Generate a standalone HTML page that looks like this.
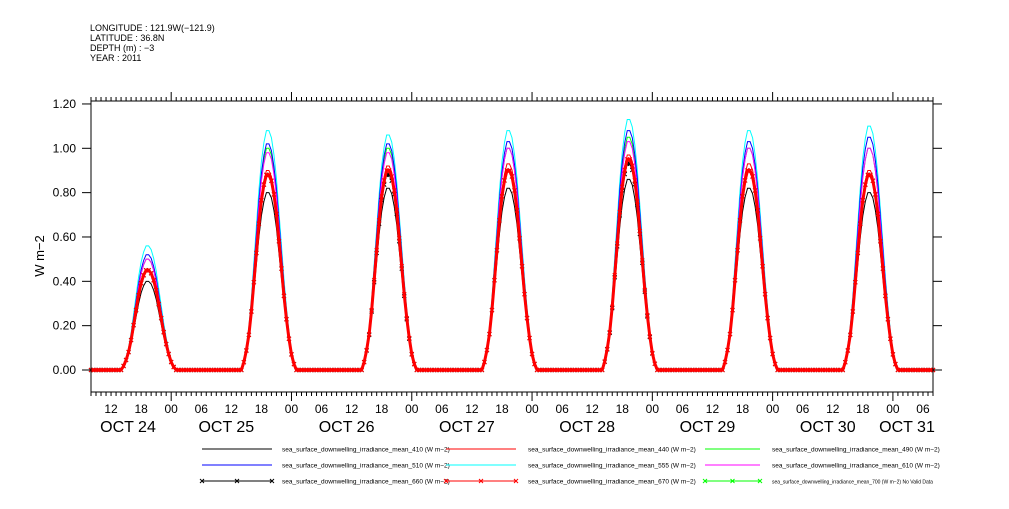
<!DOCTYPE html>
<html><head><meta charset="utf-8"><style>
body{margin:0;background:#fff;}
svg text{font-family:"Liberation Sans",sans-serif;}
</style></head><body>
<svg id="chart" width="1009" height="504" xmlns="http://www.w3.org/2000/svg">
<g font-size="9" fill="#000">
<text x="90" y="31">LONGITUDE : 121.9W(−121.9)</text>
<text x="90" y="41">LATITUDE : 36.8N</text>
<text x="90" y="51">DEPTH (m) : −3</text>
<text x="90" y="61">YEAR : 2011</text>
</g>
<text x="44" y="256" font-size="13" transform="rotate(-90 44 256)" text-anchor="middle">W m−2</text>
<g id="plot"></g>
<g id="legend"></g>
</svg>
<script>
// Data arrays
const dayLabels=["OCT 24","OCT 25","OCT 26","OCT 27","OCT 28","OCT 29","OCT 30","OCT 31"];
const yTicks=[0,0.2,0.4,0.6,0.8,1.0,1.2];
const hourLabels=["00","06","12","18"];
// diurnal profile (fraction of daily peak), half-hourly from 14:00 to 25:00 UTC
const profile=[0,0.04,0.1,0.18,0.3,0.45,0.6,0.75,0.87,0.95,1.0,1.0,0.97,0.9,0.8,0.66,0.52,0.38,0.26,0.16,0.08,0.03,0];
const peak410=[0.40,0.80,0.82,0.82,0.86,0.82,0.80];
const peak440=[0.45,0.90,0.92,0.93,0.97,0.93,0.90];
const peak490=[0.50,1.00,1.00,1.00,1.05,1.00,1.00];
const peak510=[0.52,1.02,1.02,1.03,1.08,1.03,1.05];
const peak555=[0.56,1.08,1.06,1.08,1.13,1.08,1.10];
const peak610=[0.50,0.98,0.98,1.00,1.03,1.00,1.00];
const peak660=[0.45,0.88,0.88,0.90,0.93,0.90,0.88];
const peak670=[0.45,0.88,0.90,0.90,0.95,0.90,0.88];

const NS="http://www.w3.org/2000/svg";
const X0=91,X1=933,Y0=101,Y1=392;
const tStart=8, tEnd=7*24+8; // hours since Oct24 00
function xs(h){return X0+(h-tStart)/(tEnd-tStart)*(X1-X0);}
function ys(v){return 370-v*221.7;}
const plot=document.getElementById('plot');
function mk(tag,attrs,parent){const e=document.createElementNS(NS,tag);for(const k in attrs)e.setAttribute(k,attrs[k]);(parent||plot).appendChild(e);return e;}

function seriesPts(peaks){
  const pts=[];
  for(let h=tStart;h<=tEnd;h+=0.5){
    const day=Math.floor((h-2)/24); // window 14..25 belongs to day
    const rel=h-day*24;
    let v=0;
    if(day>=0&&day<peaks.length&&rel>=14&&rel<=25){v=peaks[day]*profile[Math.round((rel-14)*2)];}
    pts.push([xs(h),ys(v)]);
  }
  return pts;
}
const series=[
 {name:'series-410',peaks:peak410,color:'#000',marker:false},
 {name:'series-490',peaks:peak490,color:'#00ff00',marker:false},
 {name:'series-555',peaks:peak555,color:'#00ffff',marker:false},
 {name:'series-510',peaks:peak510,color:'#0000ff',marker:false},
 {name:'series-610',peaks:peak610,color:'#ff00ff',marker:false},
 {name:'series-660',peaks:peak660,color:'#000',marker:true},
 {name:'series-440',peaks:peak440,color:'#ff0000',marker:false},
 {name:'series-670',peaks:peak670,color:'#ff0000',marker:true}
];
series.forEach(s=>{
  const pts=seriesPts(s.peaks);
  const p=mk('polyline',{points:pts.map(p=>p.join(',')).join(' '),fill:'none',stroke:s.color,'stroke-width':s.name==='series-670'?3:1});
  
  
  if(s.marker){
    const g=mk('g',{stroke:s.color,'stroke-width':1});
    
    
    pts.forEach(([x,y])=>{mk('path',{d:`M${x-2},${y-2}L${x+2},${y+2}M${x-2},${y+2}L${x+2},${y-2}`},g);});
  }
});

// axes frame
const frame=mk('rect',{x:X0,y:Y0,width:X1-X0,height:Y1-Y0,fill:'none',stroke:'#000','stroke-width':1});


// y ticks
yTicks.forEach(v=>{
  const y=ys(v);
  mk('line',{x1:X0-9,x2:X0,y1:y,y2:y,stroke:'#000'});
  mk('line',{x1:X1,x2:X1+9,y1:y,y2:y,stroke:'#000'});
  const t=mk('text',{x:X0-15,y:y+4,'font-size':12,'text-anchor':'end'});
  t.textContent=v.toFixed(2);
  
  
});
// x ticks
for(let h=tStart;h<=tEnd;h++){
  const x=xs(h);
  const major=h%24===0, six=h%6===0;
  const len=major?9:4;
  mk('line',{x1:x,x2:x,y1:Y1,y2:Y1+len,stroke:'#000'});
  mk('line',{x1:x,x2:x,y1:Y0,y2:Y0-len,stroke:'#000'});
  if(six&&h>tStart&&h<tEnd){
    const t=mk('text',{x:x,y:413,'font-size':12,'text-anchor':'middle'});
    t.textContent=hourLabels[(h%24)/6];
    
    
  }
}
dayLabels.forEach((d,i)=>{
  let x=xs(i*24+11);
  if(i===0)x=128; if(i===7)x=907;
  const t=mk('text',{x:x,y:432,'font-size':16,'text-anchor':'middle'});
  t.textContent=d;
  
  
});

// legend
const leg=document.getElementById('legend');
const legItems=[
 ['sea_surface_downwelling_irradiance_mean_410 (W m−2)','#000',false],
 ['sea_surface_downwelling_irradiance_mean_440 (W m−2)','#ff0000',false],
 ['sea_surface_downwelling_irradiance_mean_490 (W m−2)','#00ff00',false],
 ['sea_surface_downwelling_irradiance_mean_510 (W m−2)','#0000ff',false],
 ['sea_surface_downwelling_irradiance_mean_555 (W m−2)','#00ffff',false],
 ['sea_surface_downwelling_irradiance_mean_610 (W m−2)','#ff00ff',false],
 ['sea_surface_downwelling_irradiance_mean_660 (W m−2)','#000',true],
 ['sea_surface_downwelling_irradiance_mean_670 (W m−2)','#ff0000',true],
 ['sea_surface_downwelling_irradiance_mean_700 (W m−2) No Valid Data','#00ff00',true]
];
const colX=[[202,272,282],[446,516,528],[705,760,772]];
legItems.forEach((it,i)=>{
  const c=colX[i%3], y=449+Math.floor(i/3)*16;
  const g=mk('g',{},leg);
  
  
  mk('line',{x1:c[0],x2:c[1],y1:y,y2:y,stroke:it[1]},g);
  if(it[2]){[c[0],(c[0]+c[1])/2,c[1]].forEach(x=>mk('path',{d:`M${x-2},${y-2}L${x+2},${y+2}M${x-2},${y+2}L${x+2},${y-2}`,stroke:it[1]},g));}
  const t=mk('text',{x:c[2],y:y+2.5,'font-size':i===8?5:6.5},g);
  t.textContent=it[0];
});
</script>
</body></html>
